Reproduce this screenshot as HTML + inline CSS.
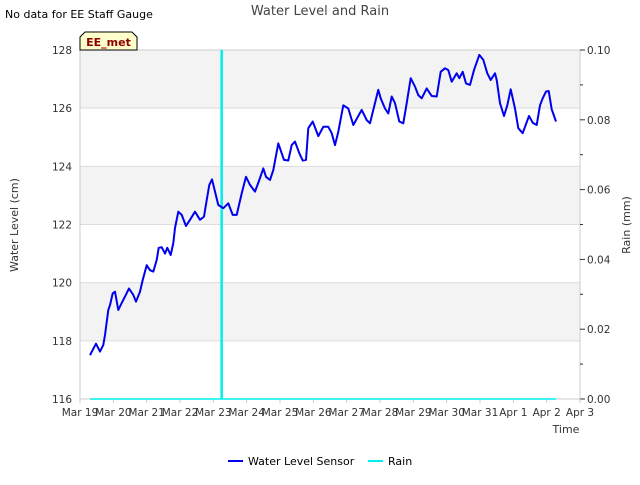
<!DOCTYPE html>
<html><head><meta charset="utf-8"><style>
body{margin:0;background:#fff;font-family:"Liberation Sans","DejaVu Sans",sans-serif}
svg text{font-family:"DejaVu Sans","Liberation Sans",sans-serif}
</style></head><body>
<svg id="c" width="640" height="480" viewBox="0 0 640 480" xmlns="http://www.w3.org/2000/svg">
<text x="5" y="18" font-size="11" fill="#000">No data for EE Staff Gauge</text>
<text x="320" y="15" font-size="13" fill="#444" text-anchor="middle">Water Level and Rain</text>
<g id="bands"></g>
<g id="grid"></g>
<rect x="80" y="50" width="500" height="349" fill="none" stroke="#ccc"/>
<g id="yl"></g>
<g id="yr"></g>
<g id="xa"></g>
<g id="series"></g>
<g>
<path d="M80,50 L80,37 L85,32 L132,32 L137,37 L137,50 Z" fill="#ffffcc" stroke="#000" stroke-width="1"/>
<text x="108.5" y="46" font-size="11" font-weight="bold" fill="#8b0000" text-anchor="middle">EE_met</text>
</g>
<text transform="translate(18,225) rotate(-90)" font-size="11" fill="#333" text-anchor="middle">Water Level (cm)</text>
<text transform="translate(630,225) rotate(-90)" font-size="11" fill="#333" text-anchor="middle">Rain (mm)</text>
<text x="566" y="433" font-size="11" fill="#333" text-anchor="middle">Time</text>
<g>
<g><line x1="228" y1="461" x2="243" y2="461" stroke="#0000ee" stroke-width="2"/><text x="248" y="465" font-size="11" fill="#000">Water Level Sensor</text></g>
<g><line x1="368" y1="461" x2="383" y2="461" stroke="#00eeee" stroke-width="2"/><text x="388" y="465" font-size="11" fill="#000">Rain</text></g>
</g>
</svg>
<script>
const xLabels=["Mar 19","Mar 20","Mar 21","Mar 22","Mar 23","Mar 24","Mar 25","Mar 26","Mar 27","Mar 28","Mar 29","Mar 30","Mar 31","Apr 1","Apr 2","Apr 3"];
const yTicks=[116,118,120,122,124,126,128];
const rTicks=[0,0.02,0.04,0.06,0.08,0.10];
const levelDays=[0.30,0.48,0.60,0.70,0.75,0.85,0.90,0.98,1.05,1.15,1.25,1.35,1.47,1.60,1.68,1.80,1.88,2.00,2.10,2.20,2.30,2.36,2.45,2.55,2.62,2.72,2.80,2.85,2.95,3.05,3.18,3.30,3.45,3.60,3.72,3.80,3.88,3.96,4.05,4.15,4.30,4.45,4.58,4.70,4.85,4.98,5.10,5.25,5.38,5.50,5.58,5.70,5.80,5.95,6.12,6.25,6.35,6.45,6.58,6.68,6.78,6.85,6.98,7.15,7.30,7.45,7.55,7.65,7.75,7.90,8.05,8.20,8.45,8.60,8.70,8.80,8.95,9.02,9.15,9.25,9.35,9.45,9.58,9.70,9.80,9.92,10.05,10.15,10.25,10.40,10.55,10.70,10.82,10.95,11.05,11.15,11.30,11.38,11.48,11.58,11.70,11.82,11.98,12.10,12.22,12.32,12.45,12.50,12.60,12.72,12.82,12.92,13.05,13.15,13.28,13.35,13.47,13.58,13.70,13.80,13.88,13.98,14.06,14.15,14.28];
const levelVals=[117.51,117.9,117.63,117.86,118.2,119.06,119.23,119.63,119.69,119.06,119.3,119.52,119.8,119.58,119.35,119.69,120.09,120.6,120.43,120.38,120.78,121.2,121.22,121.0,121.2,120.95,121.36,121.88,122.44,122.33,121.95,122.16,122.44,122.16,122.27,122.84,123.36,123.55,123.13,122.67,122.56,122.73,122.33,122.33,123.07,123.64,123.36,123.13,123.53,123.93,123.64,123.53,123.87,124.79,124.22,124.2,124.73,124.85,124.45,124.2,124.22,125.31,125.54,125.04,125.36,125.36,125.14,124.73,125.19,126.1,125.99,125.42,125.94,125.59,125.48,125.94,126.63,126.34,125.99,125.82,126.4,126.17,125.54,125.48,126.17,127.03,126.74,126.45,126.34,126.68,126.42,126.4,127.25,127.37,127.31,126.91,127.2,127.03,127.25,126.85,126.8,127.31,127.83,127.66,127.2,126.97,127.2,126.97,126.17,125.73,126.1,126.65,125.99,125.31,125.14,125.36,125.73,125.5,125.42,126.1,126.34,126.57,126.59,125.96,125.54];
const rainDays=[0.30,4.25,14.28];
const rainVals=[0,0.10,0];
const NS="http://www.w3.org/2000/svg";
const X0=80,X1=580,Y0=399,Y1=50;
const xs=d=>X0+d*(X1-X0)/15;
const yl=v=>Y0-(v-116)*(Y0-Y1)/12;
const yr=v=>Y0-v*(Y0-Y1)/0.10;
function mk(t,a,p){const e=document.createElementNS(NS,t);for(const k in a)e.setAttribute(k,a[k]);p.appendChild(e);return e;}
const bands=document.getElementById('bands'),grid=document.getElementById('grid');
for(let i=0;i<yTicks.length-1;i++){
 const r=mk('rect',{x:X0,y:yl(yTicks[i+1]),width:X1-X0,height:yl(yTicks[i])-yl(yTicks[i+1]),fill:i%2==1?'#f3f3f3':'#fff'},bands);
 
 
}
const ylg=document.getElementById('yl');
yTicks.forEach(v=>{
 const l=mk('line',{x1:X0,x2:X1,y1:yl(v),y2:yl(v),stroke:'#ddd'},grid);
 
 
 const t=mk('text',{x:72,y:yl(v)+4,'font-size':10.5,fill:'#333','text-anchor':'end'},ylg);
 
 
 t.textContent=v;
});
const yrg=document.getElementById('yr');
rTicks.forEach((v,i)=>{
 mk('line',{x1:X1,x2:X1+5,y1:yr(v),y2:yr(v),stroke:'#333'},yrg);
 if(i<rTicks.length-1)mk('line',{x1:X1,x2:X1+3,y1:yr(v+0.01),y2:yr(v+0.01),stroke:'#333'},yrg);
 const t=mk('text',{x:587,y:yr(v)+4,'font-size':10.5,fill:'#333'},yrg);
 
 
 t.textContent=v.toFixed(2);
});
const xa=document.getElementById('xa');
xLabels.forEach((s,i)=>{
 mk('line',{x1:xs(i),x2:xs(i),y1:Y0,y2:Y0+4,stroke:'#ccc'},xa);
 const t=mk('text',{x:xs(i),y:416,'font-size':10.5,fill:'#333','text-anchor':'middle'},xa);
 
 
 t.textContent=s;
});
const sg=document.getElementById('series');
const base=mk('line',{x1:xs(rainDays[0]),x2:xs(rainDays[rainDays.length-1]),y1:yr(0),y2:yr(0),stroke:'#00eeee','stroke-width':1.5},sg);


rainDays.forEach((d,i)=>{if(rainVals[i]>0){
 const b=mk('line',{x1:xs(d),x2:xs(d),y1:yr(0),y2:yr(rainVals[i]),stroke:'#00eeee','stroke-width':2.5},sg);
 
 
}});
const pl=mk('polyline',{points:levelDays.map((d,i)=>xs(d).toFixed(1)+','+yl(levelVals[i]).toFixed(1)).join(' '),fill:'none',stroke:'#0000ee','stroke-width':2,'stroke-linejoin':'round'},sg);


</script>
</body></html>
